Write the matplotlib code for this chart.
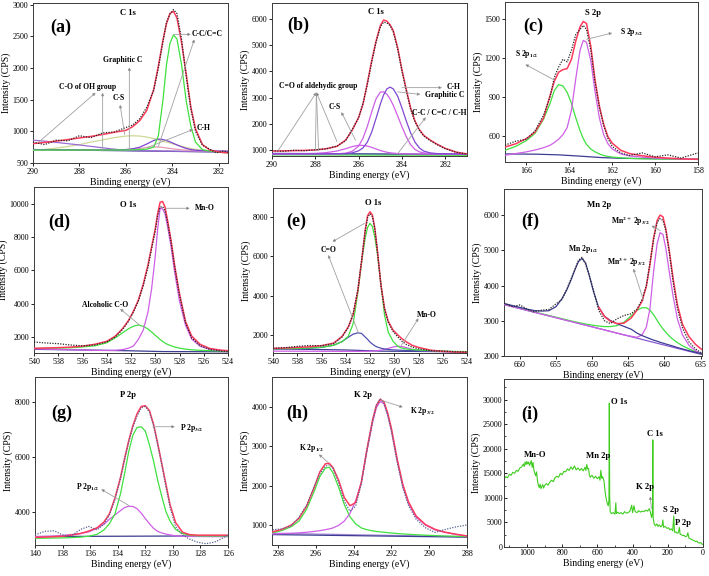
"""Nine-panel XPS figure: C 1s, S 2p, O 1s, Mn 2p, P 2p, K 2p high-resolution fits and survey."""

import matplotlib

matplotlib.use("Agg")
import matplotlib.pyplot as plt
from matplotlib.ticker import MultipleLocator

plt.rcParams["font.family"] = ["Liberation Serif", "DejaVu Serif"]
plt.rcParams["mathtext.fontset"] = "stix"
plt.rcParams["axes.formatter.useoffset"] = False

RED = "#ff3b5c"
GREEN = "#3fe03f"
VIOLET = "#cf5fe6"
PURPLE = "#7f48d2"
NAVY = "#3c3c92"
OLIVE = "#cdd996"
PINK = "#e49ab4"
DATA = "#262626"
DATA_BLUE = "#5a6490"
ARROW = "#a0a0a0"
SURVEY = "#3fcc1f"

# ---- (a) C 1s --------------------------------------------------------------
A_X = [290, 289.5, 289, 288.5, 288, 287.5, 287, 286.5, 286, 285.7, 285.4, 285.1, 284.8, 284.6,
       284.4, 284.25, 284.1, 283.95, 283.8, 283.6, 283.4, 283.2, 283.0, 282.7, 282.4, 282.1,
       281.8, 281.6]
A_DATA = [830, 790, 860, 850, 930, 900, 975, 990, 1060, 1100, 1200, 1380, 1650, 2000, 2420, 2720,
          2850, 2920, 2860, 2450, 1870, 1350, 1000, 780, 720, 660, 690, 670]
A_ENV = [805, 825, 845, 870, 895, 920, 950, 985, 1015, 1075, 1170, 1330, 1660, 2030, 2440, 2700,
         2860, 2895, 2790, 2400, 1900, 1380, 1040, 790, 710, 680, 665, 660]
A_CC = [705, 705, 705, 705, 705, 705, 705, 705, 706, 708, 712, 718, 750, 930, 1500, 2050, 2390,
        2520, 2460, 2050, 1480, 1080, 830, 710, 690, 675, 665, 660]
A_GRAPH = [700, 715, 735, 760, 790, 830, 865, 900, 925, 930, 925, 910, 885, 865, 845, 830, 815,
           800, 785, 765, 745, 728, 715, 700, 690, 683, 678, 675]
A_CO = [860, 845, 825, 805, 785, 762, 740, 718, 700, 695, 692, 690, 690, 689, 688, 688, 687, 687,
        686, 685, 684, 683, 682, 680, 679, 678, 676, 675]
A_CH = [712, 711, 710, 709, 708, 707, 706, 706, 712, 725, 750, 800, 855, 878, 870, 855, 835, 810,
        785, 755, 730, 712, 702, 696, 693, 690, 688, 687]
A_CS = [708, 708, 707, 707, 706, 706, 705, 705, 710, 718, 730, 745, 755, 752, 745, 738, 730, 722,
        716, 708, 702, 698, 695, 692, 690, 688, 686, 685]
A_BASE_X = [290, 281.6]
A_BASE = [712, 672]

# ---- (b) C 1s --------------------------------------------------------------
B_X = [290, 289.5, 289, 288.5, 288, 287.5, 287, 286.6, 286.3, 286.0, 285.8, 285.6, 285.4, 285.2,
       285.0, 284.85, 284.7, 284.55, 284.4, 284.2, 284.0, 283.8, 283.6, 283.4, 283.2, 283.0,
       282.7, 282.4, 282.0, 281.5, 281.0]
B_DATA = [975, 950, 990, 970, 1010, 1040, 1150, 1360, 1780, 2230, 2780, 3500, 4350, 5100, 5700,
          5880, 5850, 5750, 5500, 4850, 4000, 3250, 2550, 2080, 1760, 1540, 1360, 1210, 1050, 910,
          840]
B_ENV = [960, 965, 975, 985, 1000, 1050, 1140, 1380, 1750, 2250, 2750, 3550, 4400, 5150, 5750,
         5960, 5920, 5780, 5550, 4900, 4050, 3300, 2600, 2100, 1780, 1560, 1380, 1230, 1060, 920,
         850]
B_GRAPH = [850, 850, 850, 851, 852, 853, 855, 880, 950, 1150, 1450, 1900, 2450, 2950, 3210, 3220,
           3130, 2950, 2700, 2300, 1880, 1500, 1200, 1020, 930, 890, 865, 855, 850, 845, 842]
B_CH = [850, 850, 850, 851, 852, 853, 855, 860, 890, 970, 1080, 1300, 1680, 2200, 2750, 3100, 3330,
        3400, 3330, 3050, 2600, 2100, 1650, 1300, 1080, 960, 890, 865, 855, 848, 844]
B_CS = [850, 852, 855, 860, 870, 900, 960, 1050, 1130, 1180, 1175, 1150, 1100, 1040, 980, 945,
        915, 895, 880, 865, 857, 853, 851, 850, 849, 848, 847, 846, 845, 844, 843]
B_BASE_X = [290, 281]
B_BASE = [870, 835]
B_FLAT = [815, 800]

# ---- (c) S 2p --------------------------------------------------------------
C_X = [167, 166.5, 166, 165.6, 165.2, 164.9, 164.7, 164.5, 164.3, 164.1, 163.9, 163.7, 163.5,
       163.35, 163.2, 163.0, 162.8, 162.6, 162.4, 162.2, 162.0, 161.6, 161.2, 160.6, 160.0, 159.4,
       158.8, 158.0]
C_DATA = [530, 560, 575, 640, 760, 900, 1050, 1130, 1190, 1170, 1260, 1380, 1420, 1450, 1420,
          1260, 1010, 820, 680, 580, 520, 470, 450, 470, 440, 455, 430, 470]
C_ENV = [515, 540, 580, 630, 740, 910, 1020, 1090, 1110, 1118, 1190, 1330, 1440, 1480, 1465, 1290,
         1030, 830, 690, 595, 545, 490, 465, 448, 437, 430, 425, 420]
C_P12 = [490, 520, 565, 620, 730, 850, 950, 995, 985, 935, 850, 740, 640, 580, 535, 500, 478, 462,
         450, 443, 438, 432, 428, 425, 423, 422, 421, 420]
C_P32 = [452, 465, 478, 492, 510, 528, 550, 575, 610, 665, 800, 1040, 1260, 1335, 1320, 1180, 940,
         740, 610, 540, 500, 462, 447, 437, 430, 426, 423, 420]
C_BASE_X = [167, 165.5, 164.5, 163.5, 162.5, 161.5, 158]
C_BASE = [462, 460, 455, 445, 434, 428, 422]

# ---- (d) O 1s --------------------------------------------------------------
D_X = [540, 539, 538, 537, 536, 535, 534, 533.3, 532.7, 532.2, 531.8, 531.4, 531.0, 530.6, 530.3,
       530.0, 529.8, 529.6, 529.4, 529.2, 529.0, 528.7, 528.4, 528.0, 527.5, 527.0, 526.3, 525.5,
       524.5, 524]
D_DATA = [1700, 1640, 1600, 1520, 1470, 1520, 1700, 2000, 2450, 2950, 3500, 4150, 5050, 6200, 7300,
          8350, 9300, 9800, 9850, 9600, 8950, 7700, 6200, 4500, 2850, 1950, 1480, 1250, 1150, 1120]
D_ENV = [1320, 1340, 1360, 1390, 1450, 1560, 1740, 2050, 2500, 3000, 3550, 4200, 5150, 6330, 7420,
         8500, 9420, 10100, 10150, 9830, 9070, 7830, 6300, 4600, 2930, 2060, 1560, 1310, 1200, 1180]
D_MNO = [1290, 1270, 1250, 1230, 1215, 1200, 1190, 1200, 1240, 1330, 1460, 1850, 2400, 3500, 4900,
         6850, 8500, 9750, 9700, 9430, 8700, 7450, 5900, 4150, 2700, 1880, 1440, 1260, 1190, 1175]
D_CO = [1310, 1320, 1330, 1350, 1400, 1470, 1650, 1950, 2250, 2500, 2650, 2720, 2650, 2480, 2300,
        2100, 1980, 1850, 1740, 1640, 1560, 1470, 1400, 1330, 1270, 1230, 1200, 1180, 1160, 1155]
D_BASE_X = [540, 536, 532, 529.5, 524]
D_BASE = [1260, 1220, 1170, 1125, 1110]

# ---- (e) O 1s --------------------------------------------------------------
E_X = [540, 539, 538, 537, 536, 535, 534.3, 533.8, 533.4, 533.0, 532.7, 532.4, 532.2, 532.0, 531.8,
       531.6, 531.4, 531.1, 530.8, 530.5, 530.1, 529.7, 529.4, 529.0, 528.5, 528.0, 527.0, 526.0,
       525.0, 524.0]
E_DATA = [1330, 1360, 1420, 1470, 1450, 1560, 1900, 2380, 3050, 4300, 5750, 7250, 7950, 8150, 8000,
          7350, 6300, 4500, 3300, 2650, 2180, 1900, 1700, 1520, 1380, 1300, 1210, 1180, 1150, 1140]
E_ENV = [1320, 1340, 1370, 1400, 1460, 1590, 1930, 2400, 3000, 4270, 5700, 7300, 8050, 8250, 8080,
         7400, 6350, 4550, 3350, 2700, 2250, 2000, 1830, 1650, 1470, 1370, 1230, 1170, 1140, 1120]
E_CO = [1300, 1310, 1320, 1340, 1380, 1480, 1660, 1930, 2550, 4150, 5650, 6900, 7450, 7660, 7500,
        6950, 6150, 4600, 3000, 2150, 1680, 1420, 1340, 1290, 1260, 1240, 1210, 1185, 1165, 1155]
E_SIDE = [1290, 1300, 1310, 1330, 1370, 1480, 1670, 1880, 2040, 2110, 2080, 1900, 1780, 1640, 1540,
          1450, 1390, 1330, 1290, 1265, 1245, 1235, 1225, 1215, 1205, 1195, 1180, 1165, 1155, 1150]
E_MNO = [1180, 1180, 1178, 1176, 1174, 1172, 1170, 1170, 1170, 1170, 1170, 1172, 1175, 1180, 1185,
         1195, 1205, 1230, 1270, 1320, 1390, 1430, 1420, 1360, 1270, 1210, 1170, 1160, 1155, 1150]
E_BASE_X = [540, 534, 531, 524]
E_BASE = [1300, 1240, 1180, 1150]

# ---- (f) Mn 2p -------------------------------------------------------------
F_X = [662.2, 661, 660, 659, 658, 657, 656, 655, 654.2, 653.5, 652.9, 652.4, 651.9, 651.4, 650.9,
       650.4, 649.8, 649.1, 648.3, 647.5, 646.6, 645.6, 644.6, 643.8, 643.1, 642.5, 642.0, 641.5,
       641.0, 640.6, 640.2, 639.8, 639.3, 638.8, 638.2, 637.5, 636.6, 635.7, 634.8]
F_DATA = [3500, 3400, 3450, 3330, 3250, 3300, 3320, 3480, 3600, 3900, 4200, 4450, 4720, 4800, 4600,
          4300, 3850, 3300, 3000, 2920, 3050, 3150, 3200, 3330, 3600, 4000, 4650, 5300, 5800, 5900,
          5850, 5550, 4900, 4100, 3350, 2800, 2400, 2200, 2080]
F_NAVY = [3490, 3430, 3380, 3330, 3290, 3275, 3285, 3400, 3620, 3880, 4170, 4440, 4680, 4770, 4640,
          4280, 3820, 3380, 3130, 3010, 2920, 2840, 2760, 2650, 2580, 2530, 2490, 2450, 2420, 2390,
          2365, 2340, 2310, 2280, 2240, 2200, 2150, 2105, 2060]
F_MN3 = [3465, 3405, 3352, 3300, 3250, 3200, 3150, 3100, 3060, 3025, 2995, 2972, 2950, 2928, 2908,
         2890, 2870, 2850, 2835, 2835, 2860, 2960, 3140, 3300, 3370, 3370, 3300, 3170, 3010, 2880,
         2770, 2670, 2560, 2470, 2380, 2290, 2200, 2120, 2050]
F_MN2 = [3460, 3398, 3346, 3294, 3242, 3191, 3139, 3087, 3046, 3009, 2978, 2952, 2926, 2901, 2875,
         2849, 2818, 2781, 2740, 2699, 2652, 2600, 2560, 2530, 2600, 2820, 3350, 4400, 5200, 5500,
         5450, 5050, 4350, 3700, 3050, 2600, 2300, 2150, 2060]
F_ENV_START = 17  # envelope is drawn from 649.1 eV onwards
F_ENV = [3390, 3120, 2990, 2920, 2930, 3080, 3300, 3550, 3980, 4600, 5350, 5850, 6000, 5950, 5600,
         4950, 4200, 3450, 2900, 2550, 2330, 2180]
F_BASE_X = [662.2, 634.8]
F_BASE = [3460, 2040]

# ---- (g) P 2p --------------------------------------------------------------
G_X = [140, 139.3, 138.6, 138, 137.4, 136.7, 136.1, 135.5, 135.0, 134.6, 134.2, 133.8, 133.5,
       133.2, 132.9, 132.6, 132.3, 132.0, 131.7, 131.4, 131.1, 130.8, 130.5, 130.2, 129.8, 129.3,
       128.8, 128.2, 127.6, 127.0, 126.5, 126.0]
G_DATA = [3150, 3280, 3300, 3150, 3100, 3350, 3460, 3330, 3550, 3880, 4450, 5200, 5900, 6550, 7100,
          7500, 7800, 7850, 7650, 7150, 6450, 5700, 4900, 4150, 3450, 3150, 3000, 2880, 2830, 2880,
          3000, 3150]
G_ENV = [3060, 3070, 3085, 3100, 3140, 3200, 3290, 3410, 3620, 3920, 4500, 5250, 5950, 6600, 7150,
         7580, 7850, 7880, 7700, 7200, 6500, 5750, 5000, 4250, 3600, 3250, 3160, 3140, 3140, 3140,
         3140, 3140]
G_P32 = [3025, 3030, 3035, 3040, 3050, 3070, 3100, 3170, 3330, 3560, 3920, 4650, 5400, 6200, 6800,
         7080, 7110, 6950, 6450, 5850, 5150, 4550, 4000, 3650, 3350, 3200, 3140, 3115, 3110, 3110,
         3110, 3110]
G_P12 = [3085, 3095, 3110, 3130, 3160, 3200, 3260, 3390, 3540, 3720, 3880, 4040, 4150, 4200, 4190,
         4110, 3950, 3750, 3560, 3390, 3280, 3220, 3180, 3150, 3115, 3100, 3095, 3090, 3088, 3086,
         3085, 3085]
G_BASE_X = [140, 126]
G_BASE = [3090, 3115]

# ---- (h) K 2p --------------------------------------------------------------
H_X = [298.3, 297.8, 297.3, 296.9, 296.5, 296.1, 295.8, 295.5, 295.3, 295.1, 294.8, 294.5, 294.2,
       293.9, 293.6, 293.3, 293.0, 292.8, 292.6, 292.4, 292.2, 292.0, 291.7, 291.4, 291.1, 290.7,
       290.2, 289.7, 289.2, 288.6, 288.0]
H_DATA = [880, 900, 980, 1200, 1500, 1980, 2300, 2500, 2530, 2450, 2080, 1600, 1350, 1480, 2050,
          2900, 3650, 4050, 4220, 4100, 3800, 3380, 2600, 1950, 1500, 1150, 930, 810, 880, 950, 1000]
H_ENV = [825, 890, 1000, 1170, 1480, 1950, 2350, 2560, 2570, 2460, 2140, 1700, 1490, 1570, 2080,
         2930, 3680, 4050, 4200, 4140, 3850, 3450, 2680, 2030, 1590, 1230, 1010, 890, 820, 765, 720]
H_P12 = [800, 860, 960, 1100, 1400, 1850, 2230, 2450, 2470, 2330, 1960, 1520, 1210, 1030, 925, 880,
         850, 835, 825, 815, 805, 795, 783, 772, 763, 752, 740, 730, 720, 712, 705]
H_P32 = [770, 780, 790, 800, 815, 835, 855, 880, 900, 925, 990, 1100, 1290, 1620, 2080, 2890, 3620,
         3990, 4145, 4090, 3800, 3400, 2640, 1990, 1550, 1200, 1000, 875, 815, 760, 720]
H_BASE_X = [298.3, 288]
H_BASE = [755, 690]
H_BASE2 = [790, 700]

# ---- (i) survey ------------------------------------------------------------
I_X = [1130, 1120, 1110, 1100, 1090, 1080, 1070, 1060, 1050, 1040,
       1030, 1020, 1015, 1010, 1005, 1000, 995, 990, 985, 980,
       975, 970, 965, 960, 955, 950, 945, 940, 935, 930,
       925, 920, 915, 910, 905, 900, 890, 880, 870, 860,
       850, 840, 830, 820, 810, 800, 790, 780, 770, 760,
       750, 740, 730, 720, 710, 700, 690, 680, 670, 665,
       660, 655, 650, 645, 640, 630, 620, 610, 600, 590,
       585, 580, 575, 570, 562, 558, 553, 548, 543, 538,
       534, 532, 530, 527, 520, 510, 500, 495, 492, 485,
       475, 465, 455, 445, 435, 425, 415, 405, 400, 392,
       385, 375, 365, 355, 345, 335, 325, 315, 305, 298,
       292, 287, 285, 283, 278, 270, 262, 255, 248, 240,
       232, 228, 224, 215, 205, 195, 188, 180, 172, 166,
       162, 155, 148, 140, 134, 130, 122, 115, 108, 100,
       92, 86, 80, 72, 65, 58, 50, 42, 35, 28,
       20, 12, 6, 0]
I_Y = [13900, 14300, 14100, 14800, 14600, 15200, 15000, 15600, 15400, 16100,
       16300, 16900, 16400, 17300, 16800, 17400, 16900, 17300, 16600, 17000,
       17600, 16200, 17200, 15600, 15000, 14500, 15300, 13500, 12600, 12100,
       12800, 11900, 12300, 12700, 12000, 12500, 12900, 12600, 13200, 13600,
       13300, 14100, 14400, 14200, 15000, 14700, 15400, 15300, 15900, 15600,
       16300, 15800, 16500, 15700, 16100, 15600, 16000, 15500, 16200, 15600,
       16800, 15900, 16000, 14600, 14200, 14600, 14000, 14400, 13900, 14300,
       13600, 15600, 14000, 14300, 13400, 12000, 10500, 9500, 8800, 8400,
       9500, 29300, 10500, 7200, 6800, 7000, 6700, 9000, 6800, 7100,
       6800, 7000, 6700, 7200, 6900, 7000, 7300, 8500, 7000, 8400,
       7200, 7000, 7400, 7100, 7300, 7200, 7500, 7300, 7800, 7000,
       6000, 7000, 21800, 6000, 4800, 4300, 4700, 4200, 4500, 4100,
       4400, 5500, 4000, 4200, 3800, 3900, 3500, 3700, 3300, 6300,
       3000, 3100, 2800, 2900, 4000, 2600, 2500, 2300, 2400, 2100,
       2200, 2900, 1800, 1700, 1500, 1400, 1300, 1100, 1200, 900,
       800, 900, 600, 500]


def _frame(ax, xlim, ylim, xstep, yticks, direction="out"):
    ax.set_yticks(yticks)
    ax.set_xlim(*xlim)
    ax.set_ylim(*ylim)
    ax.xaxis.set_major_locator(MultipleLocator(xstep))
    ax.tick_params(direction=direction, length=2.2, width=0.6, labelsize=5.8, pad=1.2)
    for spine in ax.spines.values():
        spine.set_linewidth(0.7)
        spine.set_color("#3a3a3a")
    ax.set_xlabel("Binding energy (eV)", fontsize=7, labelpad=1)
    ax.set_ylabel("Intensity (CPS)", fontsize=7, labelpad=1)


def _tag(ax, letter, fx, fy):
    ax.text(fx, fy, f"({letter})", transform=ax.transAxes, fontsize=13,
            fontweight="bold", ha="center", va="center")


def _label(ax, x, y, text, size=5.5):
    ax.text(x, y, text, fontsize=size, fontweight="bold", ha="center", va="center", zorder=8)


def _arrow(ax, start, end):
    ax.annotate("", xy=end, xytext=start, zorder=7,
                arrowprops=dict(arrowstyle="-|>", ec=ARROW, fc="#333333", lw=0.6,
                                mutation_scale=4, shrinkA=0, shrinkB=0))


def _line(ax, x, y, color, lw=0.9, z=3):
    ax.plot(x, y, color=color, lw=lw, zorder=z, solid_capstyle="round")


def _data(ax, x, y, color=DATA):
    ax.plot(x, y, color=color, lw=0.9, ls=(0, (1, 1.1)), zorder=6)


def panel_a(ax):
    _line(ax, A_BASE_X, A_BASE, NAVY)
    _line(ax, A_X, A_GRAPH, OLIVE)
    _line(ax, A_X, A_CO, "#9c6cd6")
    _line(ax, A_X, A_CS, PINK)
    _line(ax, A_X, A_CH, PURPLE)
    _line(ax, A_X, A_CC, GREEN)
    _line(ax, A_X, A_ENV, RED, lw=1.1, z=4)
    _data(ax, A_X, A_DATA)
    _frame(ax, (290, 281.6), (500, 3025), 2, [500, 1000, 1500, 2000, 2500, 3000])
    _tag(ax, "a", 0.143, 0.85)
    _label(ax, 285.9, 2870, "C 1s", 6.2)
    _label(ax, 282.5, 2540, "C-C/C=C")
    _arrow(ax, (283.95, 2530), (283.2, 2530))
    _arrow(ax, (284.6, 760), (283.05, 2450))
    _label(ax, 286.15, 2130, "Graphitic C")
    _arrow(ax, (285.85, 700), (285.85, 2010))
    _label(ax, 286.3, 1520, "C-S")
    _arrow(ax, (286.05, 950), (286.25, 1420))
    _label(ax, 287.65, 1700, "C-O of OH group")
    _arrow(ax, (289.75, 830), (287.3, 1610))
    _arrow(ax, (287.0, 690), (287.0, 1610))
    _label(ax, 282.65, 1060, "C-H")
    _arrow(ax, (285.1, 740), (283.1, 1030))


def panel_b(ax):
    _line(ax, B_BASE_X, B_FLAT, GREEN)
    _line(ax, B_BASE_X, B_BASE, NAVY)
    _line(ax, B_X, B_CS, VIOLET)
    _line(ax, B_X, B_GRAPH, VIOLET)
    _line(ax, B_X, B_CH, PURPLE)
    _line(ax, B_X, B_ENV, RED, lw=1.1, z=4)
    _data(ax, B_X, B_DATA)
    _frame(ax, (290, 281), (771, 6610), 2, [1000, 2000, 3000, 4000, 5000, 6000])
    _tag(ax, "b", 0.133, 0.856)
    _label(ax, 285.2, 6280, "C 1s", 6.2)
    _label(ax, 287.85, 3440, "C=O of aldehydic group")
    for start in [(289.7, 1000), (288.0, 980), (287.85, 980), (287.0, 1320)]:
        _arrow(ax, start, (287.95, 3200))
    _label(ax, 287.1, 2650, "C-S")
    _arrow(ax, (286.15, 1380), (286.8, 2450))
    _label(ax, 281.6, 3410, "C-H")
    _arrow(ax, (284.0, 3380), (282.15, 3380))
    _label(ax, 282.05, 3110, "Graphitic C")
    _arrow(ax, (284.2, 3220), (283.15, 3120))
    _label(ax, 282.3, 2400, "C-C / C=C / C-H")
    _arrow(ax, (284.2, 860), (282.9, 2250))


def panel_c(ax):
    _line(ax, C_BASE_X, C_BASE, NAVY)
    _line(ax, C_X, C_P12, GREEN)
    _line(ax, C_X, C_P32, VIOLET)
    _line(ax, C_X, C_ENV, RED, lw=1.1, z=4)
    _data(ax, C_X, C_DATA)
    _frame(ax, (167, 158), (400, 1630), 2, [600, 900, 1200, 1500])
    _tag(ax, "c", 0.144, 0.846)
    _label(ax, 162.9, 1545, "S 2p", 6.2)
    _label(ax, 161.1, 1400, r"S 2p$_{\mathbf{3/2}}$")
    _arrow(ax, (163.2, 1343), (162.0, 1392))
    _label(ax, 166.0, 1230, r"S 2p$_{\mathbf{1/2}}$")
    _arrow(ax, (164.7, 1030), (166.05, 1150))


def panel_d(ax):
    _line(ax, D_BASE_X, D_BASE, NAVY)
    _line(ax, D_X, D_CO, GREEN)
    _line(ax, D_X, D_MNO, VIOLET)
    _line(ax, D_X, D_ENV, RED, lw=1.1, z=4)
    _data(ax, D_X, D_DATA)
    _frame(ax, (540, 524), (1038, 11020), 2, [2000, 4000, 6000, 8000, 10000])
    _tag(ax, "d", 0.131, 0.79)
    _label(ax, 532.2, 9940, "O 1s", 6.2)
    _label(ax, 525.9, 9740, "Mn-O")
    _arrow(ax, (529.1, 9740), (527.15, 9740))
    _label(ax, 534.1, 3920, "Alcoholic C-O")
    _arrow(ax, (531.3, 2720), (532.9, 3700))


def panel_e(ax):
    _line(ax, E_BASE_X, E_BASE, NAVY)
    _line(ax, E_X, E_MNO, VIOLET)
    _line(ax, E_X, E_SIDE, "#5050b0")
    _line(ax, E_X, E_CO, GREEN)
    _line(ax, E_X, E_ENV, RED, lw=1.1, z=4)
    _data(ax, E_X, E_DATA)
    _frame(ax, (540, 524), (1087, 9453), 2, [2000, 4000, 6000, 8000])
    _tag(ax, "e", 0.12, 0.795)
    _label(ax, 531.75, 8680, "O 1s", 6.2)
    _label(ax, 535.4, 6310, "C=O")
    _arrow(ax, (532.45, 7660), (535.1, 6730))
    _arrow(ax, (532.95, 2100), (535.45, 6060))
    _label(ax, 527.35, 3010, "Mn-O")
    _arrow(ax, (529.4, 1490), (528.0, 2850))


def panel_f(ax):
    _line(ax, F_BASE_X, F_BASE, "#8a5ad0")
    _line(ax, F_X, F_MN3, GREEN)
    _line(ax, F_X, F_MN2, VIOLET)
    _line(ax, F_X, F_NAVY, NAVY)
    _line(ax, F_X[F_ENV_START:], F_ENV, RED, lw=1.1, z=4)
    _data(ax, F_X, F_DATA)
    _frame(ax, (662.2, 634.8), (2000, 6740), 5, [2000, 3000, 4000, 5000, 6000])
    _tag(ax, "f", 0.131, 0.804)
    _label(ax, 649.1, 6280, "Mn 2p", 6.2)
    _label(ax, 651.2, 5050, r"Mn 2p$_{\mathbf{1/2}}$")
    _label(ax, 645.2, 4670, r"Mn$^{\mathbf{3+}}$ 2p$_{\mathbf{3/2}}$")
    _arrow(ax, (642.9, 3580), (644.3, 4480))
    _label(ax, 644.7, 5810, r"Mn$^{\mathbf{2+}}$ 2p$_{\mathbf{3/2}}$")
    _arrow(ax, (640.6, 5560), (641.8, 5700))


def panel_g(ax):
    _line(ax, G_BASE_X, G_BASE, NAVY)
    _line(ax, G_X, G_P12, VIOLET)
    _line(ax, G_X, G_P32, GREEN)
    _line(ax, G_X, G_ENV, RED, lw=1.1, z=4)
    _data(ax, G_X, G_DATA, DATA_BLUE)
    _frame(ax, (140, 126), (2780, 8930), 2, [4000, 6000, 8000])
    _tag(ax, "g", 0.138, 0.784)
    _label(ax, 133.25, 8270, "P 2p", 6.2)
    _label(ax, 128.65, 7050, r"P 2p$_{\mathbf{3/2}}$")
    _arrow(ax, (131.45, 7110), (129.85, 7110))
    _label(ax, 136.15, 4915, r"P 2p$_{\mathbf{1/2}}$")
    _arrow(ax, (133.2, 4230), (135.2, 4820))


def panel_h(ax):
    _line(ax, H_BASE_X, H_BASE2, "#a88ad8")
    _line(ax, H_BASE_X, H_BASE, NAVY)
    _line(ax, H_X, H_P12, GREEN)
    _line(ax, H_X, H_P32, VIOLET)
    _line(ax, H_X, H_ENV, RED, lw=1.1, z=4)
    _data(ax, H_X, H_DATA, DATA_BLUE)
    _frame(ax, (298.33, 288), (490, 4770), 2, [1000, 2000, 3000, 4000])
    _tag(ax, "h", 0.127, 0.785)
    _label(ax, 293.5, 4315, "K 2p", 6.2)
    _label(ax, 290.35, 3916, r"K 2p$_{\mathbf{3/2}}$")
    _arrow(ax, (292.5, 4170), (291.4, 4000))
    _label(ax, 296.25, 2955, r"K 2p$_{\mathbf{1/2}}$")
    _arrow(ax, (295.35, 2590), (295.85, 2800))


def panel_i(ax):
    ax.plot(I_X, I_Y, color=SURVEY, lw=0.8)
    _frame(ax, (1130, 0), (0, 34200), 200,
           [0, 5000, 10000, 15000, 20000, 25000, 30000], direction="in")
    ax.xaxis.set_minor_locator(MultipleLocator(100))
    ax.yaxis.set_minor_locator(MultipleLocator(2500))
    ax.tick_params(which="minor", direction="in", length=1.2, width=0.5)
    _tag(ax, "i", 0.132, 0.79)
    _label(ax, 476, 29450, "O 1s", 6.2)
    _label(ax, 274, 23000, "C 1s", 6.2)
    _label(ax, 953, 18820, "Mn-O", 6.2)
    _label(ax, 595, 18620, "Mn 2p", 6.2)
    _label(ax, 330, 12190, "K 2p", 6.2)
    _arrow(ax, (293, 7800), (300, 10300))
    _label(ax, 179, 7580, "S 2p", 6.2)
    _label(ax, 114, 4870, "P 2p", 6.2)


def main():
    fig = plt.figure(figsize=(7.09, 5.76), dpi=100)
    W, H = 709.0, 576.0
    boxes = {
        "a": (33, 3, 228, 163), "b": (272, 3, 467, 156), "c": (505, 2, 698, 162),
        "d": (34, 187, 228, 353), "e": (273, 188, 467, 353), "f": (504, 189, 702, 356),
        "g": (35, 377, 228, 545), "h": (272, 377, 467, 545), "i": (504, 379, 703, 547),
    }
    painters = {"a": panel_a, "b": panel_b, "c": panel_c, "d": panel_d, "e": panel_e,
                "f": panel_f, "g": panel_g, "h": panel_h, "i": panel_i}
    for key, (x0, y0, x1, y1) in boxes.items():
        ax = fig.add_axes([x0 / W, 1 - y1 / H, (x1 - x0) / W, (y1 - y0) / H])
        painters[key](ax)
    fig.savefig("out.png", dpi=100)
    plt.close(fig)


if __name__ == "__main__":
    main()
